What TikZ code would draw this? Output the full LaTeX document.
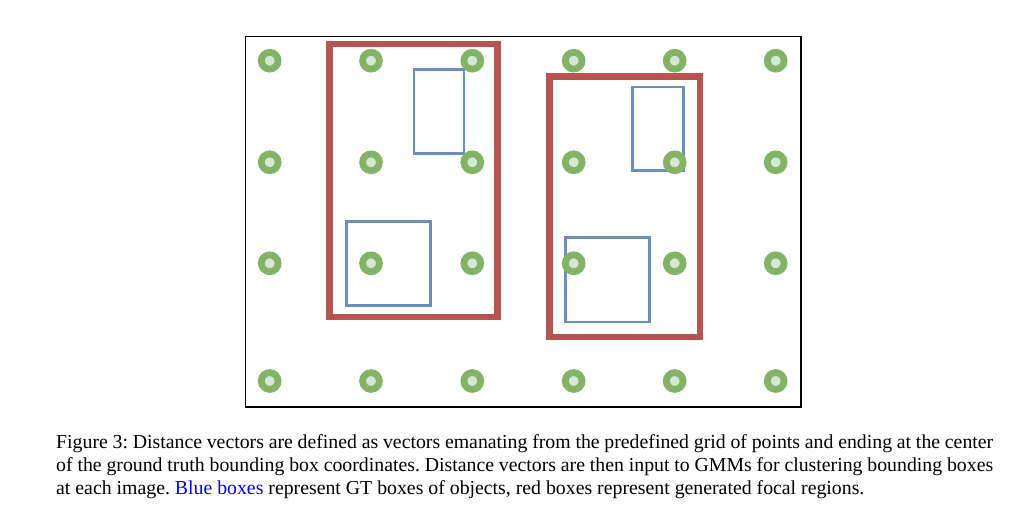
\documentclass[tikz,border=0pt]{standalone}
\usepackage{fontspec}
\setmainfont{Liberation Serif}
\frenchspacing
\definecolor{dotgreen}{HTML}{82B366}
\definecolor{dotlight}{HTML}{D5E8D4}
\definecolor{boxred}{HTML}{B85450}
\definecolor{boxblue}{HTML}{6C8EBF}
\definecolor{linkblue}{HTML}{0000FF}
\begin{document}
\begin{tikzpicture}[x=1pt,y=-1pt,
  gpt/.style={circle,draw=dotgreen,fill=dotlight,line width=6.8pt,minimum size=16.8pt,inner sep=0pt},
  redbox/.style={draw=boxred,line width=6.7pt},
  bluebox/.style={draw=boxblue,line width=2.7pt},
  frame/.style={draw=black,line width=1.4pt},
  captxt/.style={anchor=base west,inner sep=0pt,font=\fontsize{19.8}{22.7}\selectfont}]
\useasboundingbox (0,0) rectangle (1030,521);
\draw[frame] (245.7,36.3) rectangle (801,407);
% focal regions
\draw[redbox] (329.3,44) rectangle (497.3,317);
\draw[redbox] (549.3,76.7) rectangle (700,337);
% GT boxes
\draw[bluebox] (414,69.7) rectangle (464,153.3);
\draw[bluebox] (346.3,221.3) rectangle (430.3,305.3);
\draw[bluebox] (632.7,87) rectangle (683.3,170.7);
\draw[bluebox] (565.3,237.3) rectangle (649.7,322);
% grid points
\foreach \c/\x in {1/269.7,2/371,3/472.3,4/573.7,5/674.7,6/775.7}{
  \foreach \r/\y in {1/60.7,2/162.3,3/263.3,4/381}{
    \node[gpt] (p\r\c) at (\x,\y) {};
  }
}
% caption
\node[captxt] (cap1) at (56,448.7) {\makebox[937pt][s]{Figure 3: Distance vectors are defined as vectors emanating from the predefined grid of points and ending at the center}};
\node[captxt] (cap2) at (56,471.4) {\makebox[937pt][s]{of the ground truth bounding box coordinates. Distance vectors are then input to GMMs for clustering bounding boxes}};
\node[captxt] (cap3) at (56,494.1) {at each image. \textcolor{linkblue}{Blue boxes} represent GT boxes of objects, red boxes represent generated focal regions.};
\end{tikzpicture}
\end{document}
